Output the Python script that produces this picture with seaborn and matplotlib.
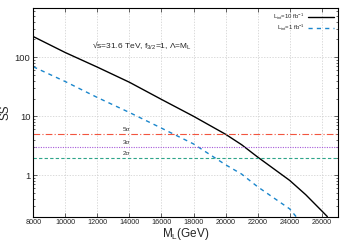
import numpy as np
import pandas as pd
import matplotlib
matplotlib.use("Agg")
import matplotlib.pyplot as plt
import seaborn as sns

# values (SS vs M_L)
mass_10fb = [8000, 10000, 12000, 14000, 16000, 18000, 20000, 21000, 22000, 24000, 25000, 26000, 26350]
ss_10fb = [224, 120, 68, 37.7, 19.3, 10.0, 4.96, 3.3, 2.04, 0.82, 0.47, 0.25, 0.2]
mass_1fb = [8000, 10000, 12000, 14000, 16000, 18000, 20000, 21000, 22000, 24000, 24400]
ss_1fb = [69, 38.7, 20.8, 11.6, 6.3, 3.4, 1.51, 1.05, 0.64, 0.27, 0.2]

sigma_levels = [5, 3, 2]
sigma_labels = ["5σ", "3σ", "2σ"]
sigma_colors = ["#f2553f", "#a65ad8", "#2fa58a"]
sigma_styles = [(0, (6, 2, 1, 2)), (0, (1, 1.2)), (0, (3, 2))]

xticks = list(range(8000, 26001, 2000))

df10 = pd.DataFrame({"M": mass_10fb, "SS": ss_10fb})
df1 = pd.DataFrame({"M": mass_1fb, "SS": ss_1fb})

sns.set_style("ticks")
plt.rcParams["font.family"] = ["Liberation Sans", "DejaVu Sans"]
plt.rcParams["mathtext.fontset"] = "custom"
plt.rcParams["mathtext.rm"] = "Liberation Sans"
plt.rcParams["mathtext.it"] = "Liberation Sans:italic"

fig = plt.figure(figsize=(3.5, 2.45), dpi=100)
ax = fig.add_axes([0.095, 0.116, 0.87, 0.851])

sns.lineplot(data=df10, x="M", y="SS", ax=ax, color="black", lw=1.0,
             label=r"L$_{\rm int}$=10 fb$^{-1}$")
sns.lineplot(data=df1, x="M", y="SS", ax=ax, color="#1a86cc", lw=1.0,
             label=r"L$_{\rm int}$=1 fb$^{-1}$")
ax.lines[1].set_dashes([3, 3])

for lev, lab, col, ls in zip(sigma_levels, sigma_labels, sigma_colors, sigma_styles):
    ax.axhline(lev, color=col, lw=0.8, linestyle=ls)
    ax.text(13800, lev * 1.07, lab, fontsize=4.6, ha="center", va="bottom", color="#333333")

ax.text(11650, 158, r"√s=31.6 TeV, f$_{\rm 3/2}$=1, Λ=M$_{\rm L}$",
        fontsize=6, va="center", ha="left")

ax.set_yscale("log")
ax.set_xlim(8000, 27000)
ax.set_ylim(0.2, 680)
ax.set_xticks(xticks)
ax.set_xticklabels([str(t) for t in xticks], fontsize=5.2)
ax.set_yticks([1, 10, 100])
ax.set_yticklabels(["1", "10", "100"], fontsize=6.8)
ax.set_xlabel(r"M$_{\rm L}$(GeV)", fontsize=8.5, labelpad=0)
ax.set_ylabel("SS", fontsize=8.5, labelpad=2)

ax.grid(False, which="minor")
ax.grid(True, which="major", color="#cccccc", ls=(0, (2, 2)), lw=0.5)
ax.tick_params(which="both", direction="in", top=True, right=True, width=0.5, pad=2)
ax.tick_params(which="major", length=3)
ax.tick_params(which="minor", length=1.6)
for s in ax.spines.values():
    s.set_linewidth(0.8)
    s.set_color("black")

leg = ax.legend(loc="upper right", fontsize=4.3, frameon=False, handlelength=4.2,
                markerfirst=False, labelspacing=0.05, borderaxespad=0.3, handletextpad=0.6)

fig.savefig("out.png", dpi=100)
